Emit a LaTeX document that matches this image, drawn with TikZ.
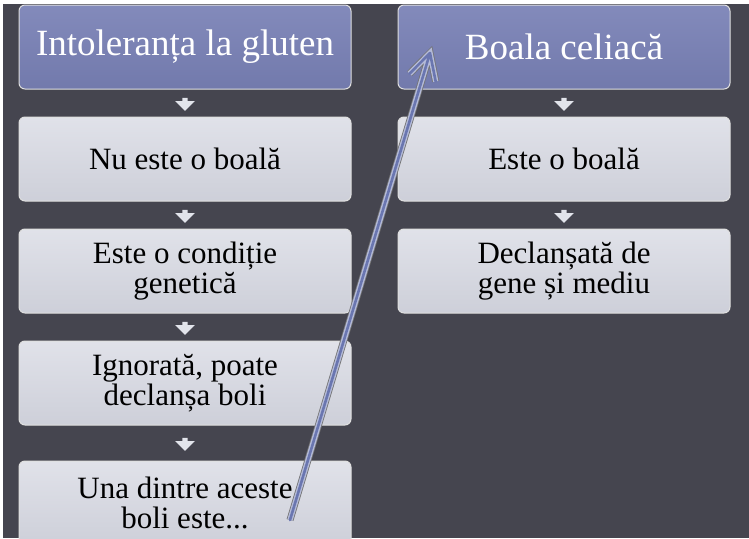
\documentclass[tikz,border=0pt]{standalone}
\usepackage{fontspec}
\setmainfont{Liberation Serif}
\usetikzlibrary{positioning,shapes.arrows,calc}
\definecolor{slide}{HTML}{45454F}
\definecolor{headfill}{HTML}{7880B5}
\definecolor{boxfill}{HTML}{D6D8E2}
\definecolor{arrblue}{HTML}{6A76B0}
\definecolor{arredge}{HTML}{B4BAD8}

\begin{document}
\begin{tikzpicture}[x=1pt,y=-1pt,node distance=27pt and 46pt,
   card/.style={rectangle,rounded corners=6pt,minimum width=332pt,minimum height=84pt,
      draw=white!75!gray,line width=1pt,align=center,inner sep=0pt},
   head/.style={card,top color=headfill!92!white,bottom color=headfill!95!black,
      text=white,font=\fontsize{37}{38}\selectfont},
   body/.style={card,top color=boxfill!75!white,bottom color=boxfill!96!black,
      font=\fontsize{31}{30}\selectfont},
   flow/.style={single arrow,shape border rotate=270,fill=boxfill!70!white,inner sep=2.5pt,
      minimum height=13pt,minimum width=10pt,single arrow head indent=0pt},
   jump/.style={draw=arrblue,line width=2.6pt,line cap=round,line join=round,
      preaction={draw=black!55,line width=7pt},
      preaction={draw=arredge,line width=5.4pt}}]

   \useasboundingbox (0,0) rectangle (749,538);
   \fill[white] (0,0) rectangle (749,538);
   \fill[slide] (3,4) rectangle (749,538);

   % left column
   \node[head] (h1) at (185,47) {Intoleranța la gluten};
   \node[body] (a1) [below=of h1] {Nu este o boală};
   \node[body] (a2) [below=of a1] {Este o condiție\\genetică};
   \node[body] (a3) [below=of a2] {Ignorată, poate\\declanșa boli};
   \node[body] (a4) [below=35pt of a3] {Una dintre aceste\\boli este...};

   % right column
   \node[head] (h2) [right=of h1] {Boala celiacă};
   \node[body] (b1) [below=of h2] {Este o boală};
   \node[body] (b2) [below=of b1] {Declanșată de\\gene și mediu};

   \path (h1) -- node[flow] {} (a1)
         (a1) -- node[flow] {} (a2)
         (a2) -- node[flow] {} (a3)
         (a3) -- node[flow] {} (a4)
         (h2) -- node[flow] {} (b1)
         (b1) -- node[flow] {} (b2);

   % long arrow to the second column
   \coordinate (tail) at (290,520);
   \coordinate (tip) at (430,53);
   \coordinate (barbl) at ($(tip)!29pt!28:(tail)$);
   \coordinate (barbr) at ($(tip)!29pt!-28:(tail)$);
   \draw[jump] (tail) -- (tip) (barbl) -- (tip) -- (barbr);
\end{tikzpicture}
\end{document}
